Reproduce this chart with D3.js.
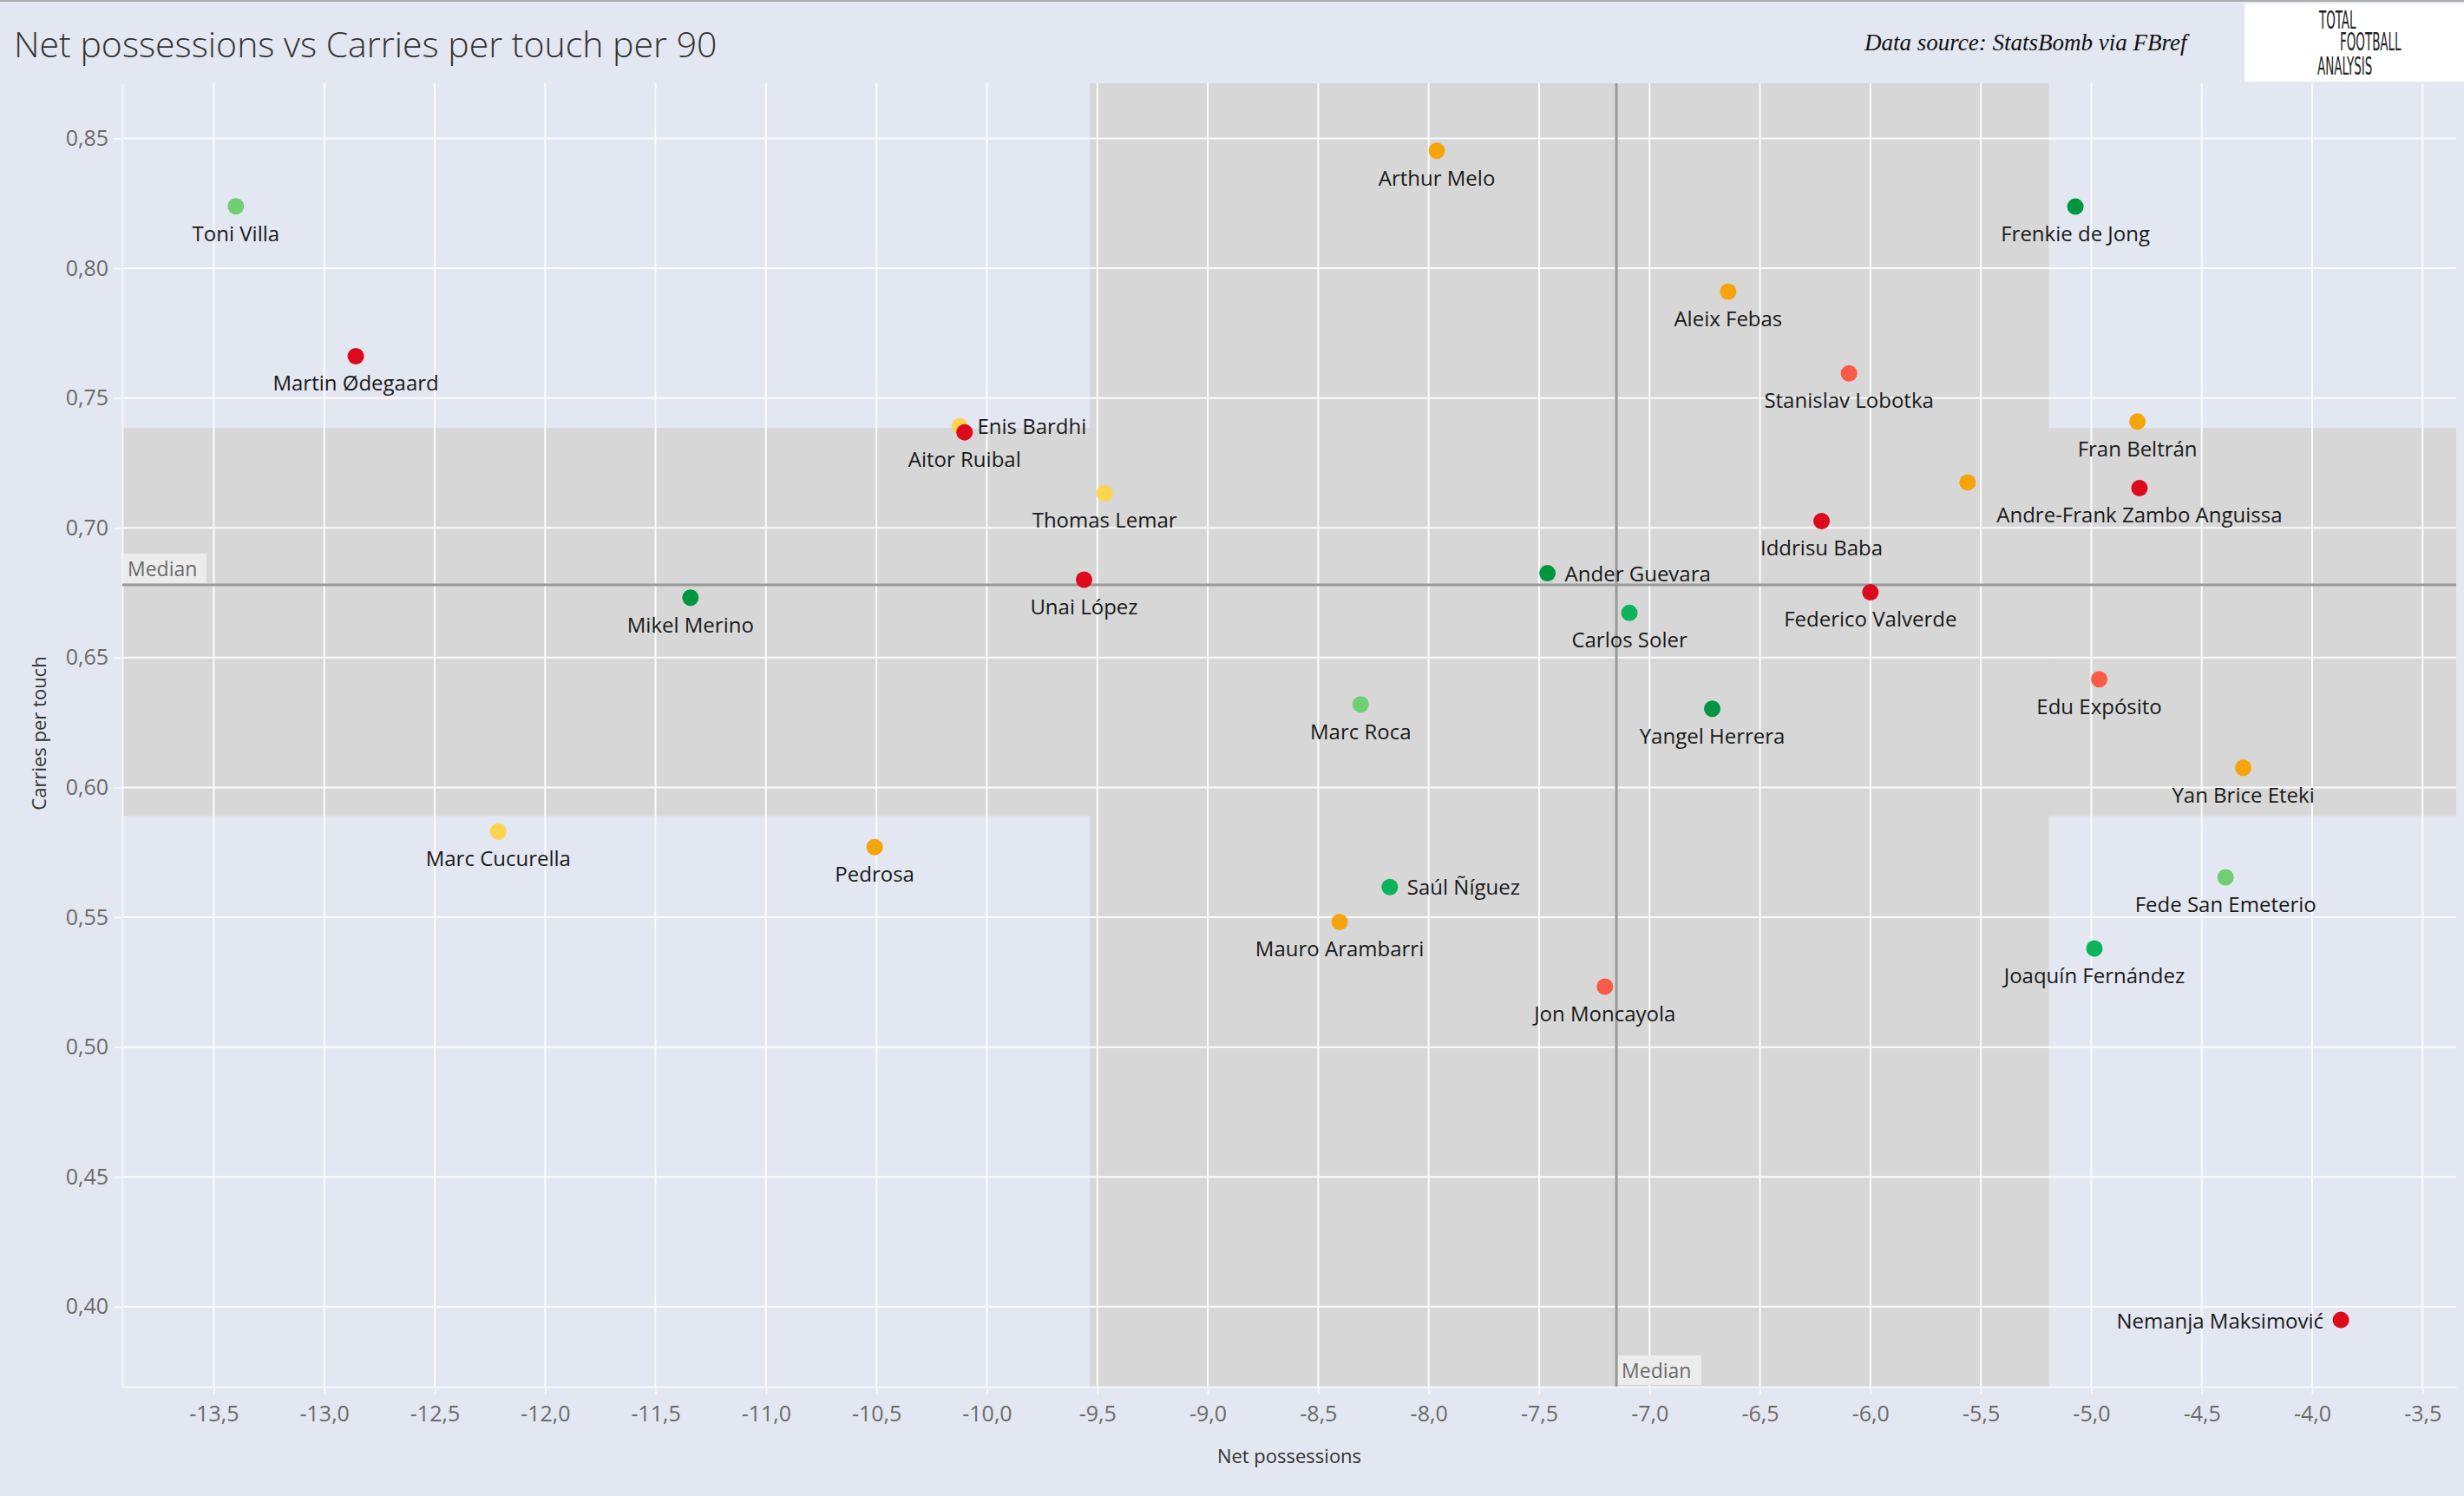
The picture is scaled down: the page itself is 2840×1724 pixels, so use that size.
<!DOCTYPE html>
<html>
<head>
<meta charset="utf-8">
<script src="https://cdn.jsdelivr.net/npm/d3@7"></script>
<style>
  body { margin: 0; background: #e3e7f1; }
  svg { display: block; }
</style>
</head>
<body>
<div id="chart"></div>
<script>
var WIDTH = 2840;
var HEIGHT = 1724;

// data
var players = ['Toni Villa', 'Martin Ødegaard', 'Enis Bardhi', 'Aitor Ruibal', 'Thomas Lemar',
	'Unai López', 'Mikel Merino', 'Arthur Melo', 'Frenkie de Jong', 'Aleix Febas',
	'Stanislav Lobotka', 'Fran Beltrán', '', 'Andre-Frank Zambo Anguissa', 'Iddrisu Baba',
	'Ander Guevara', 'Carlos Soler', 'Federico Valverde', 'Marc Roca', 'Yangel Herrera',
	'Edu Expósito', 'Yan Brice Eteki', 'Marc Cucurella', 'Pedrosa', 'Saúl Ñíguez',
	'Mauro Arambarri', 'Jon Moncayola', 'Fede San Emeterio', 'Joaquín Fernández', 'Nemanja Maksimović'];
var netPossessions = [-13.40, -12.857, -10.122, -10.101, -9.467,
	-9.560, -11.342, -7.963, -5.072, -6.644,
	-6.097, -4.791, -5.560, -4.782, -6.221,
	-7.462, -7.091, -6.000, -8.308, -6.716,
	-4.964, -4.312, -12.212, -10.508, -8.176,
	-8.403, -7.202, -4.392, -4.986, -3.870];
var carriesPerTouch = [0.8238, 0.7661, 0.7391, 0.7368, 0.7133,
	0.6800, 0.6731, 0.8452, 0.8237, 0.7910,
	0.7595, 0.7409, 0.7175, 0.7153, 0.7026,
	0.6825, 0.6672, 0.6752, 0.6320, 0.6303,
	0.6417, 0.6076, 0.5830, 0.5770, 0.5616,
	0.5482, 0.5233, 0.5654, 0.5380, 0.3949];
var tiers = ['lightgreen', 'red', 'yellow', 'red', 'yellow',
	'red', 'darkgreen', 'orange', 'darkgreen', 'orange',
	'redorange', 'orange', 'orange', 'red', 'red',
	'darkgreen', 'green', 'red', 'lightgreen', 'darkgreen',
	'redorange', 'orange', 'yellow', 'orange', 'green',
	'orange', 'redorange', 'lightgreen', 'green', 'red'];

var xTickValues = [-13.5, -13, -12.5, -12, -11.5, -11, -10.5, -10, -9.5, -9, -8.5, -8,
	-7.5, -7, -6.5, -6, -5.5, -5, -4.5, -4, -3.5];
var yTickValues = [0.40, 0.45, 0.50, 0.55, 0.60, 0.65, 0.70, 0.75, 0.80, 0.85];
var xDomain = [-13.914, -3.348];
var yDomain = [0.3692, 0.8712];

var possMedian = -7.15;
var carriesMedian = 0.678;
var possBand = [-9.534, -5.192];
var carriesBand = [0.589, 0.7384];

var tierColour = {
	darkgreen: '#00963f',
	green: '#0bb35a',
	lightgreen: '#6fcf72',
	yellow: '#fdd44e',
	orange: '#f5a40a',
	redorange: '#fa5b46',
	red: '#dc0a1c'
};

// label side, default below
var labelSide = {
	'Enis Bardhi': 'right',
	'Ander Guevara': 'right',
	'Saúl Ñíguez': 'right',
	'Nemanja Maksimović': 'left'
};

var PLOT = {left: 141, right: 2831, top: 96, bottom: 1598};
var LABEL_FONT = '"Open Sans", "Noto Sans", sans-serif';

var loc = d3.formatLocale({decimal: ',', thousands: '.', grouping: [3], currency: ['', ''], minus: '-'});
var fmtX = loc.format('.1f');
var fmtY = loc.format('.2f');

function makeSVG() {
	var svg = d3.select('#chart').append('svg')
		.attr('width', WIDTH)
		.attr('height', HEIGHT);

	svg.append('rect')
		.attr('width', WIDTH)
		.attr('height', HEIGHT)
		.attr('fill', '#e3e7f1');

	svg.append('rect')
		.attr('width', WIDTH)
		.attr('height', 2)
		.attr('fill', '#adadad');

	return svg;
}

function drawHeader(svg) {
	svg.append('text')
		.attr('x', 16)
		.attr('y', 66)
		.attr('font-family', LABEL_FONT)
		.attr('font-weight', 300)
		.attr('font-size', 41)
		.attr('fill', '#333')
		.text('Net possessions vs Carries per touch per 90');

	svg.append('text')
		.attr('x', 2149)
		.attr('y', 58)
		.attr('font-family', '"Liberation Serif", serif')
		.attr('font-style', 'italic')
		.attr('font-size', 27)
		.attr('fill', '#111')
		.text('Data source: StatsBomb via FBref');

	var logo = svg.append('g');
	logo.append('rect')
		.attr('x', 2587)
		.attr('y', 4)
		.attr('width', 253)
		.attr('height', 90)
		.attr('fill', '#fff');

	// rough stand-in for the logo lettering
	var words = [['TOTAL', 2673, 33], ['FOOTBALL', 2697, 58], ['ANALYSIS', 2671, 86]];
	words.forEach(function(w) {
		logo.append('text')
			.attr('transform', 'translate(' + w[1] + ',' + w[2] + ') scale(0.68,1.25)')
			.attr('font-family', '"Liberation Sans Narrow", "DejaVu Sans Condensed", sans-serif')
			.attr('font-size', 22)
			.attr('fill', '#222')
			.text(w[0]);
	});
}

function drawChart(svg) {
	var x = d3.scaleLinear().domain(xDomain).range([PLOT.left, PLOT.right]);
	var y = d3.scaleLinear().domain(yDomain).range([PLOT.bottom, PLOT.top]);

	// bands
	var bands = svg.append('g');
	bands.append('rect')
		.attr('x', PLOT.left)
		.attr('y', y(carriesBand[1]))
		.attr('width', PLOT.right - PLOT.left)
		.attr('height', y(carriesBand[0]) - y(carriesBand[1]))
		.attr('fill', '#d7d7d7');
	bands.append('rect')
		.attr('x', x(possBand[0]))
		.attr('y', PLOT.top)
		.attr('width', x(possBand[1]) - x(possBand[0]))
		.attr('height', PLOT.bottom - PLOT.top)
		.attr('fill', '#d7d7d7');

	// grid
	var grid = svg.append('g').attr('stroke', '#fbfbfd').attr('stroke-width', 2);
	grid.selectAll('line.v').data(xTickValues).enter().append('line')
		.attr('x1', function(d) { return x(d); })
		.attr('x2', function(d) { return x(d); })
		.attr('y1', PLOT.top)
		.attr('y2', PLOT.bottom);
	grid.selectAll('line.h').data(yTickValues).enter().append('line')
		.attr('x1', PLOT.left)
		.attr('x2', PLOT.right)
		.attr('y1', function(d) { return y(d); })
		.attr('y2', function(d) { return y(d); });

	// axes
	var xAxis = svg.append('g')
		.attr('transform', 'translate(0,' + PLOT.bottom + ')')
		.call(d3.axisBottom(x).tickValues(xTickValues).tickFormat(fmtX)
			.tickSize(9).tickSizeOuter(0).tickPadding(13));
	var yAxis = svg.append('g')
		.attr('transform', 'translate(' + PLOT.left + ',0)')
		.call(d3.axisLeft(y).tickValues(yTickValues).tickFormat(fmtY)
			.tickSize(10).tickSizeOuter(0).tickPadding(6));

	[xAxis, yAxis].forEach(function(a) {
		a.select('.domain').attr('stroke', '#f6f6f8').attr('stroke-width', 2);
		a.selectAll('.tick line').attr('stroke', '#f6f6f8').attr('stroke-width', 2);
		a.selectAll('.tick text')
			.attr('font-family', LABEL_FONT)
			.attr('font-size', 25)
			.attr('fill', '#6b6b6b');
	});

	svg.append('text')
		.attr('x', (PLOT.left + PLOT.right) / 2)
		.attr('y', 1686)
		.attr('text-anchor', 'middle')
		.attr('font-family', LABEL_FONT)
		.attr('font-size', 22)
		.attr('fill', '#333')
		.text('Net possessions');

	svg.append('text')
		.attr('transform', 'translate(53,845) rotate(-90)')
		.attr('text-anchor', 'middle')
		.attr('font-family', LABEL_FONT)
		.attr('font-size', 22)
		.attr('fill', '#333')
		.text('Carries per touch');

	// median lines
	var med = svg.append('g');
	med.append('line')
		.attr('x1', PLOT.left).attr('x2', PLOT.right)
		.attr('y1', y(carriesMedian)).attr('y2', y(carriesMedian))
		.attr('stroke', '#9a9a9a').attr('stroke-width', 3);
	med.append('line')
		.attr('x1', x(possMedian)).attr('x2', x(possMedian))
		.attr('y1', PLOT.top).attr('y2', PLOT.bottom)
		.attr('stroke', '#9a9a9a').attr('stroke-width', 3);

	med.append('rect')
		.attr('x', PLOT.left + 1).attr('y', y(carriesMedian) - 36)
		.attr('width', 96).attr('height', 34)
		.attr('fill', '#ececec');
	med.append('text')
		.attr('x', PLOT.left + 6).attr('y', y(carriesMedian) - 10)
		.attr('font-family', LABEL_FONT).attr('font-size', 23).attr('fill', '#6b6b6b')
		.text('Median');
	med.append('rect')
		.attr('x', x(possMedian) + 2).attr('y', PLOT.bottom - 36)
		.attr('width', 96).attr('height', 34)
		.attr('fill', '#ececec');
	med.append('text')
		.attr('x', x(possMedian) + 6).attr('y', PLOT.bottom - 10)
		.attr('font-family', LABEL_FONT).attr('font-size', 23).attr('fill', '#6b6b6b')
		.text('Median');

	// points
	var idx = d3.range(players.length);
	svg.append('g').selectAll('circle').data(idx).enter().append('circle')
		.attr('cx', function(i) { return x(netPossessions[i]); })
		.attr('cy', function(i) { return y(carriesPerTouch[i]); })
		.attr('r', 9.5)
		.attr('fill', function(i) { return tierColour[tiers[i]]; });

	// labels
	svg.append('g').selectAll('text').data(idx.filter(function(i) { return players[i]; })).enter().append('text')
		.attr('font-family', LABEL_FONT)
		.attr('font-size', 24)
		.attr('fill', '#1a1a1a')
		.each(function(i) {
			var side = labelSide[players[i]] || 'below';
			var cx = x(netPossessions[i]);
			var cy = y(carriesPerTouch[i]);
			var t = d3.select(this);
			if (side === 'right') {
				t.attr('x', cx + 20).attr('y', cy + 9).attr('text-anchor', 'start');
			} else if (side === 'left') {
				t.attr('x', cx - 20).attr('y', cy + 10).attr('text-anchor', 'end');
			} else {
				t.attr('x', cx).attr('y', cy + 40).attr('text-anchor', 'middle');
			}
		})
		.text(function(i) { return players[i]; });
}

function init() {
	var svg = makeSVG();
	drawHeader(svg);
	drawChart(svg);
}

init();
</script>
</body>
</html>
